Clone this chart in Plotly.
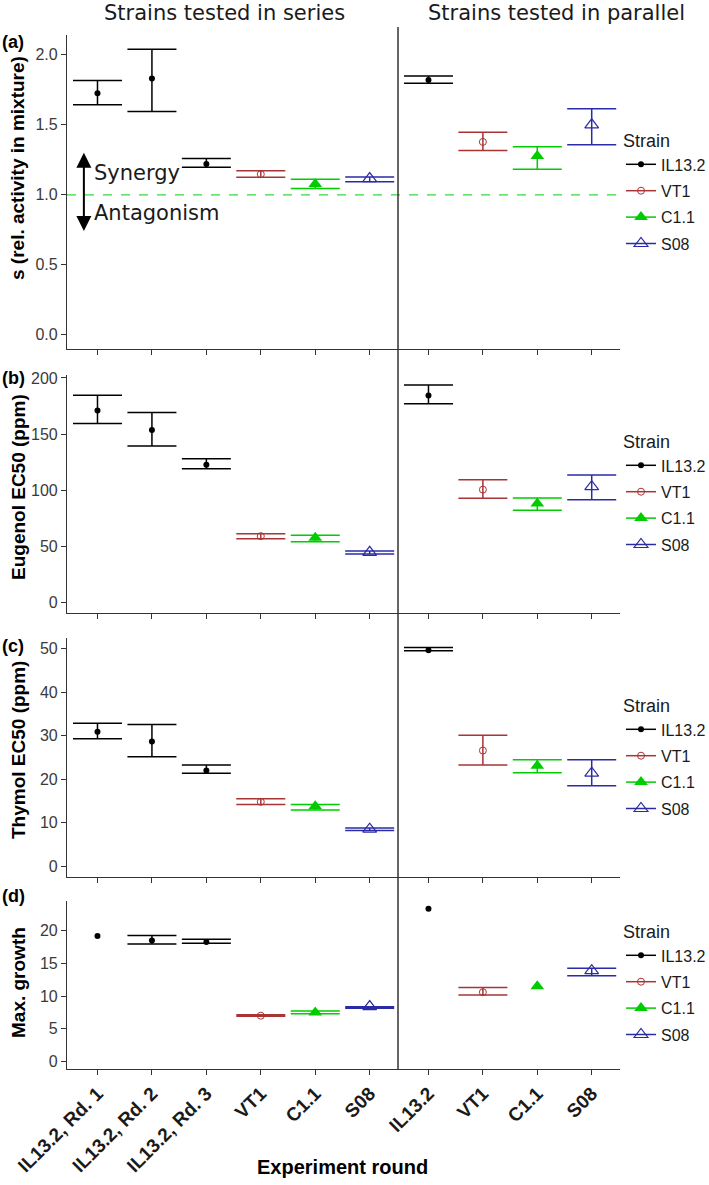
import plotly.graph_objects as go

# ---------------- data ----------------
left_categories = ["IL13.2, Rd. 1", "IL13.2, Rd. 2", "IL13.2, Rd. 3", "VT1", "C1.1", "S08"]
left_strain = ["IL13.2", "IL13.2", "IL13.2", "VT1", "C1.1", "S08"]
right_categories = ["IL13.2", "VT1", "C1.1", "S08"]
right_strain = ["IL13.2", "VT1", "C1.1", "S08"]
strains = ["IL13.2", "VT1", "C1.1", "S08"]

# (a) synergy s
s_left_est = [1.726, 1.832, 1.220, 1.147, 1.078, 1.116]
s_left_lo = [1.643, 1.596, 1.196, 1.125, 1.045, 1.094]
s_left_hi = [1.816, 2.040, 1.260, 1.172, 1.111, 1.128]
s_right_est = [1.820, 1.378, 1.277, 1.500]
s_right_lo = [1.797, 1.317, 1.182, 1.357]
s_right_hi = [1.849, 1.447, 1.343, 1.615]

# (b) Eugenol EC50
eug_left_est = [171.0, 153.5, 122.7, 58.9, 57.5, 44.5]
eug_left_lo = [159.4, 139.3, 119.1, 56.6, 54.0, 43.0]
eug_left_hi = [184.6, 169.2, 128.0, 61.0, 59.8, 45.6]
eug_right_est = [184.3, 100.4, 88.0, 103.0]
eug_right_lo = [176.9, 92.7, 82.0, 91.3]
eug_right_hi = [193.8, 109.3, 93.0, 113.5]

# (c) Thymol EC50
thy_left_est = [30.9, 28.7, 22.0, 14.8, 13.8, 8.5]
thy_left_lo = [29.3, 25.2, 21.4, 14.2, 12.9, 8.2]
thy_left_hi = [32.9, 32.6, 23.3, 15.5, 14.2, 8.75]
thy_right_est = [49.7, 26.6, 23.1, 21.4]
thy_right_lo = [49.55, 23.3, 21.5, 18.5]
thy_right_hi = [50.3, 30.1, 24.5, 24.5]

# (d) Max. growth
gr_left_est = [19.2, 18.5, 18.3, 7.0, 7.5, 8.4]
gr_left_lo = [None, 18.0, 18.1, 6.9, 7.3, 8.15]
gr_left_hi = [None, 19.3, 18.7, 7.15, 7.7, 8.35]
gr_right_est = [23.4, 10.6, 11.5, 13.9]
gr_right_lo = [None, 10.15, None, 13.1]
gr_right_hi = [None, 11.3, None, 14.25]

row_titles = ["s (rel. activity in mixture)", "Eugenol EC50 (ppm)", "Thymol EC50 (ppm)", "Max. growth"]
row_tags = ["(a)", "(b)", "(c)", "(d)"]
row_ranges = [[-0.102, 2.142], [-9.65, 202.65], [-2.5, 52.5], [-1.17, 24.57]]
row_ticks = [[0, 0.5, 1.0, 1.5, 2.0], [0, 50, 100, 150, 200], [0, 10, 20, 30, 40, 50], [0, 5, 10, 15, 20]]
row_tickfmt = [".1f", "d", "d", "d"]
x_title = "Experiment round"
col_titles = ["Strains tested in series", "Strains tested in parallel"]

rows = [
    (s_left_est, s_left_lo, s_left_hi, s_right_est, s_right_lo, s_right_hi),
    (eug_left_est, eug_left_lo, eug_left_hi, eug_right_est, eug_right_lo, eug_right_hi),
    (thy_left_est, thy_left_lo, thy_left_hi, thy_right_est, thy_right_lo, thy_right_hi),
    (gr_left_est, gr_left_lo, gr_left_hi, gr_right_est, gr_right_lo, gr_right_hi),
]

# ---------------- styles ----------------
W, H = 709, 1185
colors = {"IL13.2": "#000000", "VT1": "#A83434", "C1.1": "#00CC00", "S08": "#2B2BA6"}
markers = {
    "IL13.2": dict(symbol="circle", size=6),
    "VT1": dict(symbol="circle-open", size=7, line=dict(width=1)),
    "C1.1": dict(symbol="triangle-up", size=12),
    "S08": dict(symbol="triangle-up-open", size=12, line=dict(width=1.2)),
}

def px(p):
    return p / W

def py(p):
    return 1 - p / H

row_px = [(35, 349), (375, 613), (638, 877), (901, 1069)]
left_dom = [px(67), px(398)]
right_dom = [px(398), px(620)]
legend_tops = [124, 425, 689, 915]

fig = go.Figure()
layout = dict(
    template="none",
    width=W, height=H, margin=dict(l=0, r=0, t=0, b=0, autoexpand=False),
    paper_bgcolor="white", plot_bgcolor="white",
    font=dict(family="Liberation Sans", color="#1a1a1a", size=16),
    showlegend=True,
)

axcol = "#333333"
for r in range(4):
    top, bot = row_px[r]
    for c in range(2):
        k = r * 2 + c + 1
        xname = "xaxis" if k == 1 else f"xaxis{k}"
        yname = "yaxis" if k == 1 else f"yaxis{k}"
        cats = left_categories if c == 0 else right_categories
        n = len(cats)
        layout[xname] = dict(
            domain=left_dom if c == 0 else right_dom,
            anchor=f"y{'' if k == 1 else k}",
            type="category", categoryorder="array", categoryarray=cats,
            range=[-0.56, n - 1 + 0.52], automargin=False,
            showline=True, linecolor=axcol, linewidth=1.2,
            ticks="outside", ticklen=5, tickcolor=axcol, tickwidth=1.1,
            showgrid=False, zeroline=False,
            showticklabels=(r == 3), tickangle=-45,
            tickfont=dict(family="Liberation Sans", size=19, color="#1a1a1a", weight="bold"),
            fixedrange=True,
        )
        ydict = dict(
            domain=[py(bot), py(top)],
            anchor=f"x{'' if k == 1 else k}",
            range=row_ranges[r], showgrid=False, zeroline=False,
            fixedrange=True, automargin=False,
        )
        if c == 0:
            ydict.update(
                showline=True, linecolor=axcol, linewidth=1.2,
                ticks="outside", ticklen=5, tickcolor=axcol, tickwidth=1.1,
                tickvals=row_ticks[r], tickformat=row_tickfmt[r],
                tickfont=dict(family="Liberation Sans", size=16, color="#3a3a3a"),
            )
        else:
            ydict.update(showline=False, ticks="", showticklabels=False)
        layout[yname] = ydict

    lname = "legend" if r == 0 else f"legend{r + 1}"
    layout[lname] = dict(
        x=px(621), xanchor="left", y=py(legend_tops[r]), yanchor="top",
        bgcolor="rgba(0,0,0,0)", itemwidth=30, tracegroupgap=2.6,
        title=dict(text="Strain", font=dict(family="Liberation Sans", size=18, color="#1a1a1a")),
        font=dict(family="Liberation Sans", size=16, color="#1a1a1a"),
        itemclick=False, itemdoubleclick=False,
    )

    est_l, lo_l, hi_l, est_r, lo_r, hi_r = rows[r]
    for c, (cats, strs, est, lo, hi) in enumerate([
        (left_categories, left_strain, est_l, lo_l, hi_l),
        (right_categories, right_strain, est_r, lo_r, hi_r),
    ]):
        k = r * 2 + c + 1
        xa = "x" if k == 1 else f"x{k}"
        ya = "y" if k == 1 else f"y{k}"
        for i, cat in enumerate(cats):
            s = strs[i]
            m = dict(markers[s])
            m["color"] = colors[s]
            tr = dict(x=[cat], y=[est[i]], mode="markers", marker=m,
                      xaxis=xa, yaxis=ya, showlegend=False, hoverinfo="skip",
                      legend=lname)
            if lo[i] is not None and hi[i] is not None:
                tr["error_y"] = dict(type="data", symmetric=False,
                                     array=[hi[i] - est[i]], arrayminus=[est[i] - lo[i]],
                                     color=colors[s], thickness=1.5, width=24.5)
            fig.add_trace(go.Scatter(**tr))
    # legend entries for this row
    k = r * 2 + 2
    for s in strains:
        m = dict(markers[s])
        m["color"] = colors[s]
        fig.add_trace(go.Scatter(
            x=[None], y=[None], mode="lines+markers", name=s, marker=m,
            line=dict(color=colors[s], width=1.5),
            xaxis=f"x{k}", yaxis=f"y{k}", legend=lname, legendgroup=f"{r}-{s}",
            showlegend=True, hoverinfo="skip",
        ))

shapes = [
    # vertical divider spanning all rows
    dict(type="line", xref="paper", yref="paper", x0=px(398), x1=px(398),
         y0=py(1069), y1=py(27), line=dict(color=axcol, width=1.5)),
    # dashed reference line s = 1
    dict(type="line", xref="paper", yref="y", x0=px(67), x1=px(620), y0=1, y1=1,
         line=dict(color="#3CD63C", width=1.3, dash="dash"), layer="below"),
]

def ann(text, x, y, **kw):
    d = dict(text=text, xref="paper", yref="paper", x=px(x), y=py(y),
             xanchor="center", yanchor="middle", showarrow=False)
    d.update(kw)
    return d

annotations = [
    ann(col_titles[0], 224, 13, font=dict(family="DejaVu Sans", size=21, color="#1a1a1a")),
    ann(col_titles[1], 556, 13, font=dict(family="DejaVu Sans", size=21, color="#1a1a1a")),
    ann(x_title, 342, 1167, font=dict(family="Liberation Sans", size=20, color="#000", weight="bold")),
    dict(text="Synergy", xref="x", yref="y", x=-0.1, y=1.156, xanchor="left", yanchor="middle",
         showarrow=False, font=dict(family="DejaVu Sans", size=21, color="#1a1a1a")),
    dict(text="Antagonism", xref="x", yref="y", x=-0.1, y=0.872, xanchor="left", yanchor="middle",
         showarrow=False, font=dict(family="DejaVu Sans", size=21, color="#1a1a1a")),
    dict(text="", xref="x", yref="y", x=-0.25, y=1.30, ax=-0.25, ay=0.73,
         axref="x", ayref="y", showarrow=True, arrowside="end+start",
         arrowhead=2, startarrowhead=2, arrowsize=1.5, startarrowsize=1.5,
         arrowwidth=2, arrowcolor="#000", standoff=0, startstandoff=0),
]
ytitle_centers = [168, 487, 750, 983]
tag_ys = [42, 378, 646, 896]
for r in range(4):
    annotations.append(ann(row_titles[r], 18, ytitle_centers[r], textangle=-90,
                           font=dict(family="Liberation Sans", size=19, color="#000", weight="bold")))
    annotations.append(ann(row_tags[r], 13, tag_ys[r],
                           font=dict(family="Liberation Sans", size=18, color="#000", weight="bold")))

layout["shapes"] = shapes
layout["annotations"] = annotations
fig.update_layout(**layout)

fig.write_html("out.html", config={"displayModeBar": False},
               post_script="document.body.style.margin='0';")
